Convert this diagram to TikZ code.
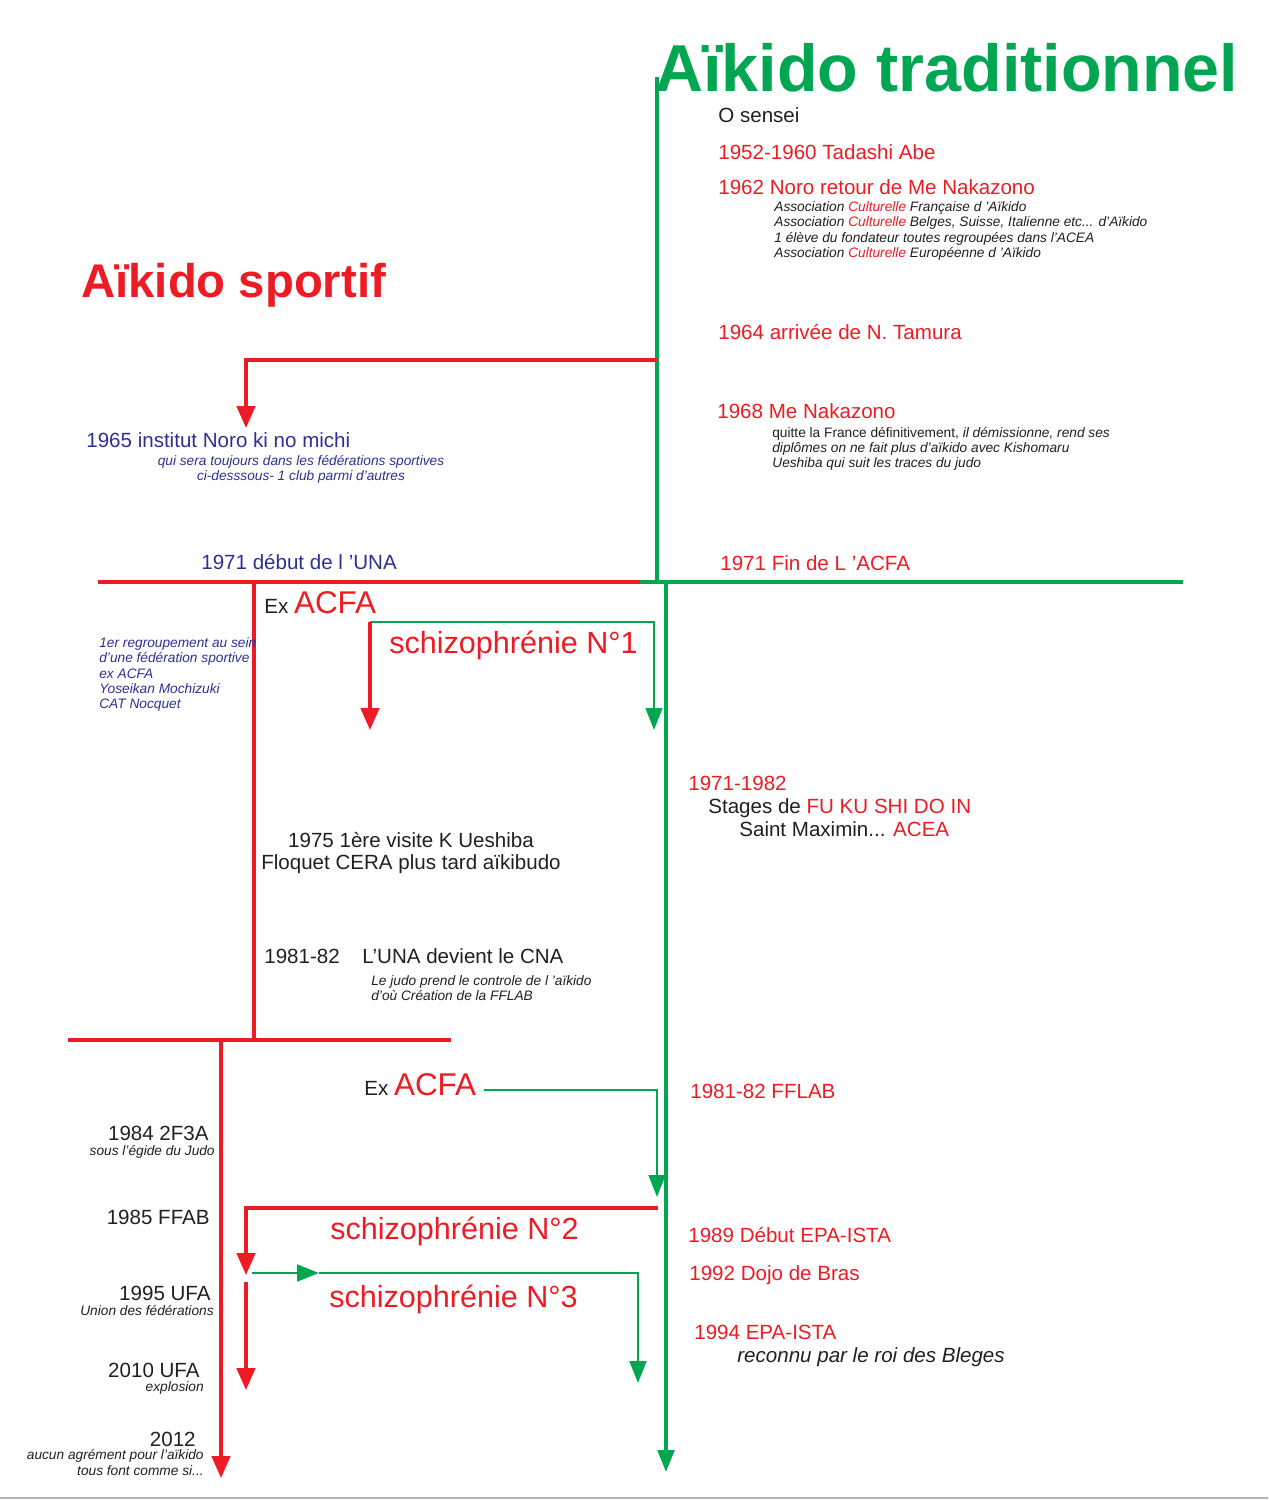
\documentclass[tikz,border=0pt]{standalone}
\usepackage{fontspec}
\setmainfont{Liberation Sans}
\usetikzlibrary{arrows.meta}
\definecolor{aired}{HTML}{ED1C24}
\definecolor{aigreen}{HTML}{00A651}
\definecolor{ainavy}{HTML}{2E3192}
\definecolor{aidark}{HTML}{231F20}
\begin{document}
\begin{tikzpicture}[x=0.02cm,y=-0.02cm,
    txt/.style={anchor=base west,inner sep=0pt,text=aidark,font=\fontsize{11.7}{14}\selectfont},
    rtxt/.style={txt,text=aired},
    ntxt/.style={txt,text=ainavy},
    note/.style={anchor=base west,inner sep=0pt,text=aidark,font=\fontsize{7.8}{9}\selectfont\itshape},
    nnote/.style={note,text=ainavy},
    schizo/.style={anchor=base west,inner sep=0pt,text=aired,font=\fontsize{17.4}{20}\selectfont},
    redline/.style={draw=aired,line width=1.9pt},
    greenline/.style={draw=aigreen,line width=1.9pt},
    redarrow/.style={redline,-{Triangle[length=12.5pt,width=10.5pt]}},
    greenarrow/.style={greenline,-{Triangle[length=12.5pt,width=9.5pt]}}]
    \useasboundingbox (0,0) rectangle (1268,1500);
    \fill[white] (0,0) rectangle (1268,1500);
    \draw[gray!60,line width=1pt] (0,1498) -- (1268,1498);
    % Titres
    \node[anchor=base west,inner sep=0pt,text=aigreen,font=\fontsize{37.8}{40}\selectfont\bfseries] (tradi) at (655,92) {Aïkido traditionnel};
    \node[anchor=base west,inner sep=0pt,text=aired,font=\fontsize{26.9}{30}\selectfont\bfseries] (sportif) at (81,297) {Aïkido sportif};
    % Points de jonction
    \coordinate (gtop) at (657,77);
    \coordinate (gknee) at (657,582);
    \coordinate (split) at (640,582);
    \coordinate (gright) at (1183,582);
    \coordinate (rleft) at (98,582);
    \coordinate (g2top) at (666,582);
    \coordinate (g2bot) at (666,1472);
    \coordinate (noroout) at (657,360);
    \coordinate (noroin) at (246,428);
    \coordinate (unatop) at (254,582);
    \coordinate (unabot) at (254,1040);
    \coordinate (cnaleft) at (68,1040);
    \coordinate (cnaright) at (451,1040);
    \coordinate (ffabtop) at (221,1040);
    \coordinate (ffabbot) at (221,1478);
    \coordinate (sone) at (370,622);
    \coordinate (sonered) at (370,730);
    \coordinate (sonegreen) at (654,730);
    \coordinate (acfaout) at (484,1090);
    \coordinate (acfain) at (657,1197);
    \coordinate (stwoout) at (658,1208);
    \coordinate (stwoin) at (246,1275);
    \coordinate (sthree) at (252,1273);
    \coordinate (sthreemid) at (319,1273);
    \coordinate (sthreein) at (638,1383);
    \coordinate (ufatop) at (246,1282);
    \coordinate (ufabot) at (246,1390);
    % Lignes du temps
    \draw[greenline] (gtop) -- (gknee);
    \draw[redline] (rleft) -- (split);
    \draw[greenline] (split) -- (gright);
    \draw[greenarrow] (g2top) -- (g2bot);
    \draw[redarrow] (noroout) -| (noroin);
    \draw[redline] (unatop) -- (unabot);
    \draw[redline] (cnaleft) -- (cnaright);
    \draw[redarrow] (ffabtop) -- (ffabbot);
    % Schizophrenies
    \draw[greenarrow,line width=1.4pt] (sone) -| (sonegreen);
    \draw[redarrow] (sone) -- (sonered);
    \draw[greenarrow,line width=1.4pt] (acfaout) -| (acfain);
    \draw[redarrow] (stwoout) -| (stwoin);
    \draw[greenarrow,line width=1.6pt] (sthree) -- (sthreemid);
    \draw[greenarrow,line width=1.6pt] (sthreemid) -| (sthreein);
    \draw[redarrow] (ufatop) -- (ufabot);
    % Cote traditionnel
    \node[txt] (osensei) at (718,123) {O sensei};
    \node[rtxt] (abe) at (718,160) {1952-1960 Tadashi Abe};
    \node[rtxt] (noro) at (718,195) {1962 Noro retour de Me Nakazono};
    \node[note] (assoc1) at (774,212) {Association \textcolor{aired}{Culturelle} Française d ’Aïkido};
    \node[note] (assoc2) at (774,227) {Association \textcolor{aired}{Culturelle} Belges, Suisse, Italienne etc... d’Aïkido};
    \node[note] (assoc3) at (774,243) {1 élève du fondateur toutes regroupées dans l’ACEA};
    \node[note] (assoc4) at (774,258) {Association \textcolor{aired}{Culturelle} Européenne d ’Aïkido};
    \node[rtxt] (tamura) at (718,339) {1964 arrivée de N. Tamura};
    \node[rtxt] (nakazono) at (717,418) {1968 Me Nakazono};
    \node[note] (quitte1) at (772,437) {\upshape quitte la France définitivement, \itshape il démissionne, rend ses};
    \node[note] (quitte2) at (772,452) {diplômes on ne fait plus d’aïkido avec Kishomaru};
    \node[note] (quitte3) at (772,467) {Ueshiba qui suit les traces du judo};
    \node[rtxt] (finacfa) at (720,570) {1971 Fin de L ’ACFA};
    \node[rtxt] (stages) at (688,790) {1971-1982};
    \node[txt] (fukushi) at (708,813) {Stages de \textcolor{aired}{FU KU SHI DO IN}};
    \node[txt] (maximin) at (739,836) {Saint Maximin... \textcolor{aired}{ACEA}};
    \node[rtxt] (fflab) at (690,1098) {1981-82 FFLAB};
    \node[rtxt] (epa) at (688,1242) {1989 Début EPA-ISTA};
    \node[rtxt] (bras) at (689,1280) {1992 Dojo de Bras};
    \node[rtxt] (ista) at (694,1339) {1994 EPA-ISTA};
    \node[txt,font=\fontsize{11.7}{14}\selectfont\itshape] (roi) at (737,1362) {reconnu par le roi des Bleges};
    % Cote sportif
    \node[ntxt] (kinomichi) at (86,447) {1965 institut Noro ki no michi};
    \node[nnote,anchor=base] (club1) at (301,465) {qui sera toujours dans les fédérations sportives};
    \node[nnote,anchor=base] (club2) at (301,480) {ci-desssous- 1 club parmi d’autres};
    \node[ntxt] (una) at (201,569) {1971 début de l ’UNA};
    \node[txt] (exacfa) at (264,613) {Ex \textcolor{aired}{\fontsize{17.9}{20}\selectfont ACFA}};
    \node[nnote] (regroup1) at (99,647) {1er regroupement au sein};
    \node[nnote] (regroup2) at (99,662) {d’une fédération sportive};
    \node[nnote] (regroup3) at (99,678) {ex ACFA};
    \node[nnote] (regroup4) at (99,693) {Yoseikan Mochizuki};
    \node[nnote] (regroup5) at (99,708) {CAT Nocquet};
    \node[schizo] (schizo1) at (389,653) {schizophrénie N°1};
    \node[txt,anchor=base] (visite) at (411,847) {1975 1ère visite K Ueshiba};
    \node[txt,anchor=base] (floquet) at (411,869) {Floquet CERA plus tard aïkibudo};
    \node[txt] (cnayear) at (264,963) {1981-82};
    \node[txt] (cna) at (362,963) {L’UNA devient le CNA};
    \node[note] (judo1) at (371,985) {Le judo prend le controle de l ’aïkido};
    \node[note] (judo2) at (371,1000) {d’où Création de la FFLAB};
    \node[txt] (exacfa2) at (364,1095) {Ex \textcolor{aired}{\fontsize{17.9}{20}\selectfont ACFA}};
    \node[txt,anchor=base east] (f3a) at (209,1140) {1984 2F3A};
    \node[note,anchor=base east] (f3anote) at (215,1155) {sous l’égide du Judo};
    \node[txt,anchor=base east] (ffab) at (210,1224) {1985 FFAB};
    \node[schizo] (schizo2) at (330,1239) {schizophrénie N°2};
    \node[schizo] (schizo3) at (329,1307) {schizophrénie N°3};
    \node[txt,anchor=base east] (ufa) at (211,1300) {1995 UFA};
    \node[note,anchor=base east] (ufanote) at (214,1315) {Union des fédérations};
    \node[txt,anchor=base east] (ufa2010) at (200,1377) {2010 UFA};
    \node[note,anchor=base east] (explosion) at (204,1391) {explosion};
    \node[txt,anchor=base east] (agrement) at (196,1446) {2012};
    \node[note,anchor=base east] (agrement1) at (204,1459) {aucun agrément pour l’aïkido};
    \node[note,anchor=base east] (agrement2) at (204,1475) {tous font comme si...};
\end{tikzpicture}
\end{document}
